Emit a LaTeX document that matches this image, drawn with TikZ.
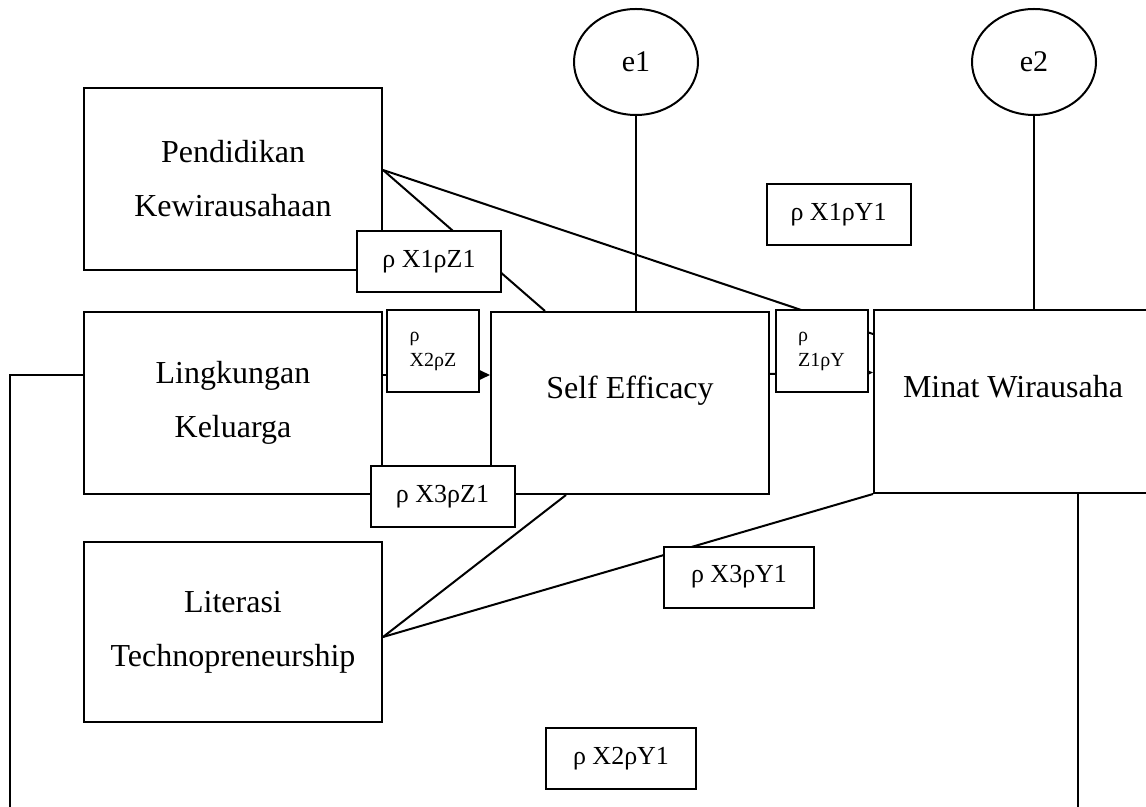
\documentclass[tikz,border=0pt]{standalone}
\usepackage{fontspec}
\setmainfont{Liberation Serif}
\usetikzlibrary{positioning,calc,shapes.geometric,arrows.meta}

\begin{document}
\begin{tikzpicture}[x=0.5pt,y=-0.5pt,line width=1pt,
	var/.style={draw,fill=white,minimum width=149pt,minimum height=91pt,align=center,font=\fontsize{16}{27}\selectfont},
	uptext/.style={text height=10pt,text depth=14pt},
	err/.style={draw,ellipse,minimum width=62pt,minimum height=53pt,font=\fontsize{15}{18}\selectfont},
	coef/.style={draw,fill=white,minimum width=72pt,minimum height=30.5pt,font=\fontsize{13}{15}\selectfont},
	smallcoef/.style={draw,fill=white,minimum width=46pt,minimum height=41pt,align=left,font=\fontsize{10}{12.5}\selectfont}]
	\useasboundingbox (0,0) rectangle (1146,807);

	\node[var] (pend) at (233,179) {Pendidikan\\Kewirausahaan};
	\node[var,below=20pt of pend] (lk) {Lingkungan\\Keluarga};
	\node[var,minimum height=90pt,below=23pt of lk] (lt) {Literasi\\Technopreneurship};
	\node[var,uptext,minimum width=139pt,right=53.5pt of lk] (se) {Self Efficacy};
	\node[var,uptext,minimum width=139pt,minimum height=91.5pt] (mw) at (1013,401.5) {Minat Wirausaha};
	\node[err] (e1) at (636,62) {e1};
	\node[err] (e2) at (1034,62) {e2};
	\coordinate (botL) at (10,807);
	\coordinate (botR) at (1078,807);

	\draw ($(pend.east)+(0,-9)$) -- ($(se.north west)+(55,0)$);
	\draw ($(pend.east)+(0,-9)$) -- ($(mw.north west)+(0,25)$);
	\draw[-{Triangle[length=5pt,width=4.5pt]}] ($(lk.east)+(0,-28)$) -- ($(se.west)+(0,-28)$);
	\draw[-{Triangle[length=5pt,width=4.5pt]}] ($(se.east)+(0,-29)$) -- ($(mw.west)+(0,-29)$);
	\draw ($(lt.east)+(0,5)$) -- ($(se.south west)+(76,0)$);
	\draw ($(lt.east)+(0,5)$) -- (mw.south west);
	\draw (e1) -- (e1 |- se.north);
	\draw (e2) -- (e2 |- mw.north);
	\draw ($(lk.west)+(0,-28)$) -| (botL);
	\draw (botR |- mw.south) -- (botR);

	\node[coef] (x1z) at (429,261.5) {ρ X1ρZ1};
	\node[coef] (x1y) at (838.5,214.5) {ρ X1ρY1};
	\node[smallcoef] (x2z) at (433,351) {ρ\\X2ρZ};
	\node[smallcoef] (zy) at (821.5,351) {ρ\\Z1ρY};
	\node[coef] (x3z) at (442.5,496.5) {ρ X3ρZ1};
	\node[coef,minimum width=75pt] (x3y) at (739,577) {ρ X3ρY1};
	\node[coef,minimum width=75pt] (x2y) at (621,758.5) {ρ X2ρY1};
\end{tikzpicture}
\end{document}
